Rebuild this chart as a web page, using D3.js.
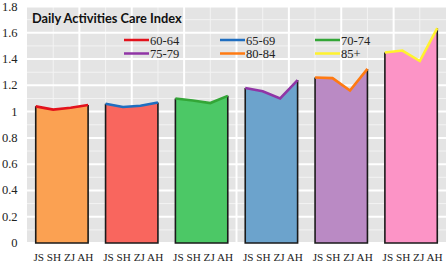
<!DOCTYPE html>
<html><head><meta charset="utf-8">
<script src="https://cdn.jsdelivr.net/npm/d3@7"></script>
<style>html,body{margin:0;padding:0;background:#fff;}svg{display:block;}</style>
</head><body>
<svg id="c" width="447" height="263"></svg>
<script>
const groups = ["60-64","65-69","70-74","75-79","80-84","85+"];
const regions = ["JS","SH","ZJ","AH"];
const v6064 = [1.04, 1.015, 1.03, 1.05];
const v6569 = [1.06, 1.035, 1.045, 1.07];
const v7074 = [1.10, 1.085, 1.065, 1.12];
const v7579 = [1.18, 1.155, 1.10, 1.24];
const v8084 = [1.26, 1.255, 1.16, 1.325];
const v85 = [1.45, 1.465, 1.385, 1.635];
const yTickLabels = ["0","0.2","0.4","0.6","0.8","1","1.2","1.4","1.6","1.8"];
const title = "Daily Activities Care Index";

const seriesVals = [v6064, v6569, v7074, v7579, v8084, v85];
const fillColors = ["#FBA152","#F9665E","#4CC866","#6CA3CC","#BA8AC4","#FC94C6"];
const lineColors = ["#E3121C","#1F6EC0","#33A637","#9035A6","#FF7A12","#FFF22E"];
const SERIF = "Liberation Serif";

const L=27, R=446, T=6.5, B=243;
const svg=d3.select("#c");
const keys=[]; groups.forEach(g=>regions.forEach(r=>keys.push(g+"|"+r)));
const x=d3.scaleBand().domain(keys).range([L,R]);
const bw=x.bandwidth();
const y=d3.scaleLinear().domain([0,1.8]).range([B,T]);

svg.append("rect").attr("x",L).attr("y",T).attr("width",R-L).attr("height",B-T).attr("fill","#E4E4E4");
const gg=svg.append("g");
d3.range(0,1.81,0.1).forEach((v,i)=>{ if(i%2===1) gg.append("line").attr("x1",L).attr("x2",R).attr("y1",y(v)).attr("y2",y(v)).attr("stroke","#F3F3F3").attr("stroke-width",1);});
for(let k=1;k<16;k+=2){const xx=L+(R-L)*k/16; gg.append("line").attr("x1",xx).attr("x2",xx).attr("y1",T).attr("y2",B).attr("stroke","#F3F3F3").attr("stroke-width",1);}
d3.range(0,1.81,0.2).forEach(v=>gg.append("line").attr("x1",L).attr("x2",R).attr("y1",y(v)).attr("y2",y(v)).attr("stroke","#fff").attr("stroke-width",2));
for(let k=1;k<8;k++){const xx=L+(R-L)*k/8; gg.append("line").attr("x1",xx).attr("x2",xx).attr("y1",T).attr("y2",B).attr("stroke","#fff").attr("stroke-width",2);}

yTickLabels.forEach((t,i)=>svg.append("text").attr("font-family",SERIF).attr("x",17.5).attr("y",y(i*0.2)+4).attr("text-anchor","end")
  .attr("font-size",12.5).attr("fill","#222").text(t));

groups.forEach((g,gi)=>{
  const vals=seriesVals[gi];
  const pts=vals.map((v,i)=>({x:x(g+"|"+regions[i])+bw/2,v}));
  const area=d3.area().x(d=>d.x).y0(y(0)).y1(d=>y(d.v));
  svg.append("path").attr("d",area(pts)).attr("fill",fillColors[gi]);
  const x0=pts[0].x, x3=pts[3].x;
  svg.append("path").attr("d",`M${x0},${y(pts[0].v)}L${x0},${y(0)}L${x3},${y(0)}L${x3},${y(pts[3].v)}`)
    .attr("fill","none").attr("stroke","#1a1a1a").attr("stroke-width",1.6);
  const line=d3.line().x(d=>d.x).y(d=>y(d.v));
  svg.append("path").attr("d",line(pts)).attr("fill","none").attr("stroke",lineColors[gi]).attr("stroke-width",2.6).attr("stroke-linejoin","miter");
  const cx=(x0+x3)/2;
  svg.append("text").attr("font-family",SERIF).attr("x",cx+1.5).attr("y",261).attr("text-anchor","middle")
    .attr("font-size",11.2).attr("fill","#222").text(regions.join(" "));
});

svg.append("text").attr("x",32).attr("y",23).attr("font-family","Lato").attr("font-weight","bold").attr("font-size",12.8).attr("fill","#111").text(title);

const lgX=[124,220,315], lgY=[40,53.5];
groups.forEach((g,i)=>{
  const cx=lgX[i%3], cy=lgY[Math.floor(i/3)];
  svg.append("line").attr("x1",cx).attr("x2",cx+25).attr("y1",cy).attr("y2",cy).attr("stroke",lineColors[i]).attr("stroke-width",2.5);
  svg.append("text").attr("font-family",SERIF).attr("x",cx+26).attr("y",cy+4.5).attr("font-size",12.5).attr("fill","#222").text(g);
});
</script>
</body></html>
